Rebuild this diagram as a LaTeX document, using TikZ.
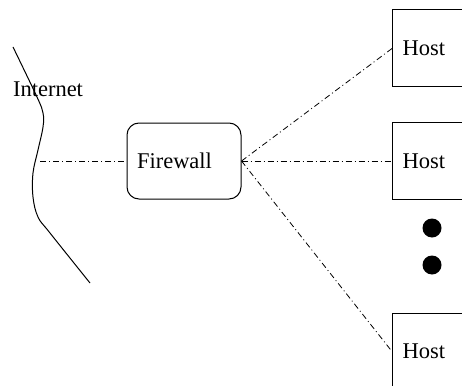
\documentclass[tikz,border=0pt]{standalone}
\usepackage{fontspec}
\setmainfont{Liberation Serif}
\begin{document}
\begin{tikzpicture}[x=1pt,y=1pt,
  every node/.style={font=\fontsize{22.5}{26}\selectfont},
  hostbox/.style={draw, line width=1pt, minimum height=77pt, text width=80pt, inner xsep=10pt, align=left, anchor=west},
  fwbox/.style={draw, line width=1pt, rounded corners=12pt, text width=94pt, inner xsep=10pt, align=left, minimum height=76pt, inner ysep=0pt},
  link/.style={line width=0.8pt, dash pattern=on 6pt off 3pt on 1pt off 3pt},
  dotmark/.style={circle, fill=black, minimum size=19pt, inner sep=0pt}]
\useasboundingbox (0,0) rectangle (462,-385);
\clip (0,0) rectangle (462,-385);
% Internet cloud edge
\draw[line width=1pt] plot[smooth, tension=0.6] coordinates {(13,-47) (37,-97) (43,-113) (43,-127) (38,-150) (33,-173) (33,-197) (38,-217) (50,-233) (90,-283)};
\node[anchor=center] (inet) at (48,-89) {Internet};
\coordinate (ip) at (40,-161);
% Firewall
\node[fwbox] (fw) at (184,-161) {Firewall};
% Hosts
\node[hostbox] (h1) at (392,-48.5) {Host};
\node[hostbox] (h2) at (392,-161) {Host};
\node[hostbox] (h3) at (392,-351.5) {Host};
\node[dotmark] (d1) at (432,-228) {};
\node[dotmark] (d2) at (432,-265) {};
% Links
\draw[link] (ip) -- (fw.west);
\draw[link] (fw.east) -- (h1.west);
\draw[link] (fw.east) -- (h2.west);
\draw[link] (fw.east) -- (h3.west);
\end{tikzpicture}
\end{document}
